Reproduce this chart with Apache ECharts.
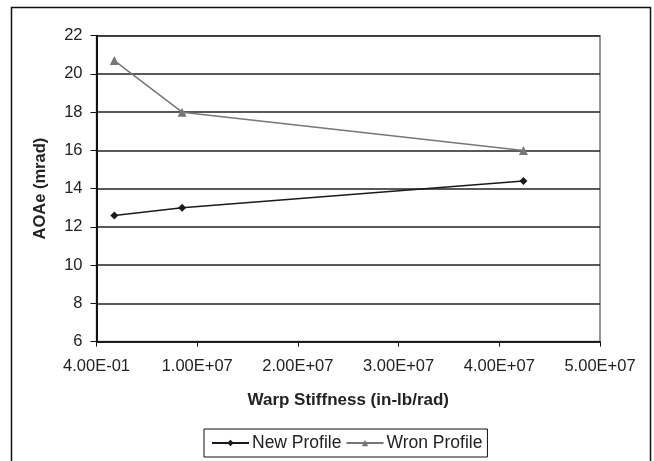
<!DOCTYPE html>
<html>
<head>
<meta charset="utf-8">
<script src="https://cdn.jsdelivr.net/npm/echarts@6/dist/echarts.min.js"></script>
<style>
  html, body { margin: 0; padding: 0; background: #fff; }
  #chart { width: 654px; height: 461px; }
</style>
</head>
<body>
<div id="chart"></div>
<script>
// data
var stiffness = [1.77e6, 8.5e6, 4.24e7];
var newProfile = [12.6, 13.0, 14.4];
var wronProfile = [20.7, 18.0, 16.0];
var xTickLabels = ['4.00E-01', '1.00E+07', '2.00E+07', '3.00E+07', '4.00E+07', '5.00E+07'];

var chart = echarts.init(document.getElementById('chart'));
var font = 'Liberation Sans, Arial, sans-serif';

function pairs(xs, ys) {
    var out = [];
    for (var i = 0; i < xs.length; i++) out.push([xs[i], ys[i]]);
    return out;
}

var option = {
    animation: false,
    textStyle: { fontFamily: font },
    graphic: [{
        type: 'rect',
        shape: { x: 11.5, y: 7.5, width: 639, height: 470 },
        style: { fill: 'none', stroke: '#111', lineWidth: 1.5 },
        silent: true
    }],
    grid: {
        left: 96.5, right: 54, top: 35.7, bottom: 119.4,
        show: true, borderColor: '#777', borderWidth: 1.5, backgroundColor: 'transparent'
    },
    legend: {
        left: 204, top: 429,
        padding: [5, 5, 5, 7],
        borderColor: '#111', borderWidth: 1,
        itemWidth: 37, itemHeight: 8, itemGap: 4,
        textStyle: { fontSize: 17.5, color: '#222', fontFamily: font, padding: [0, 0, 0, -2] },
        data: ['New Profile', 'Wron Profile']
    },
    xAxis: {
        type: 'value',
        min: 0, max: 5e7, interval: 1e7,
        name: 'Warp Stiffness (in-lb/rad)',
        nameLocation: 'middle',
        nameGap: 50,
        nameTextStyle: { fontSize: 17, fontWeight: 'bold', color: '#222', fontFamily: font },
        axisLine: { lineStyle: { color: '#111', width: 1.5 } },
        axisTick: { show: true, length: 5, lineStyle: { color: '#111' } },
        axisLabel: {
            fontSize: 16.5, color: '#222', margin: 16,
            formatter: function (v) { return xTickLabels[Math.round(v / 1e7)]; }
        },
        splitLine: { show: false }
    },
    yAxis: {
        type: 'value',
        min: 6, max: 22, interval: 2,
        name: 'AOAe (mrad)',
        nameLocation: 'middle',
        nameGap: 48,
        nameTextStyle: { fontSize: 16.5, fontWeight: 'bold', color: '#222', fontFamily: font },
        axisLine: { show: true, lineStyle: { color: '#111', width: 2 } },
        axisTick: { show: true, length: 6, lineStyle: { color: '#111' } },
        axisLabel: { fontSize: 16.5, color: '#222', margin: 14 },
        splitLine: { show: true, lineStyle: { color: '#222', width: 1.5 } }
    },
    series: [
        {
            name: 'New Profile',
            type: 'line',
            data: pairs(stiffness, newProfile),
            symbol: 'diamond', symbolSize: 8,
            lineStyle: { color: '#1a1a1a', width: 1.5 },
            itemStyle: { color: '#1a1a1a' }
        },
        {
            name: 'Wron Profile',
            type: 'line',
            data: pairs(stiffness, wronProfile),
            symbol: 'triangle', symbolSize: 9,
            lineStyle: { color: '#777', width: 1.5 },
            itemStyle: { color: '#777' }
        }
    ]
};

chart.setOption(option);
</script>
</body>
</html>
